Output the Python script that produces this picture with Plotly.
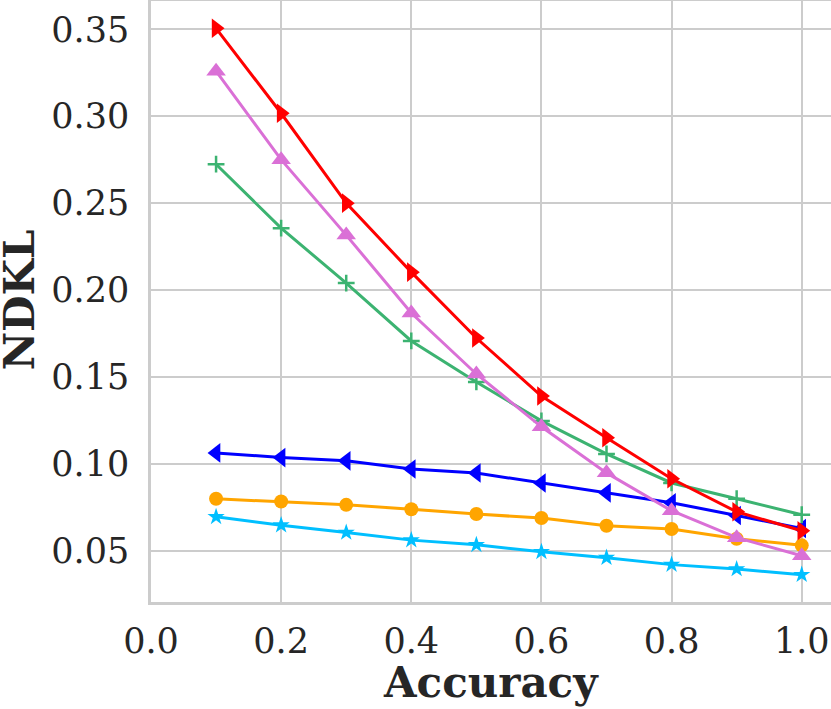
import plotly.graph_objects as go

# accuracy levels on the x axis
accuracy = [0.1, 0.2, 0.3, 0.4, 0.5, 0.6, 0.7, 0.8, 0.9, 1.0]

# NDKL per series
red_vals = [0.3506, 0.3017, 0.2500, 0.2103, 0.1724, 0.1390, 0.1150, 0.0914, 0.0724, 0.0615]
pink_vals = [0.3259, 0.2750, 0.2316, 0.1868, 0.1517, 0.1213, 0.0948, 0.0730, 0.0575, 0.0471]
green_vals = [0.2724, 0.2356, 0.2040, 0.1707, 0.1471, 0.1247, 0.1057, 0.0890, 0.0799, 0.0707]
blue_vals = [0.1063, 0.1036, 0.1017, 0.0970, 0.0947, 0.0890, 0.0833, 0.0776, 0.0703, 0.0628]
orange_vals = [0.0799, 0.0783, 0.0764, 0.0739, 0.0711, 0.0688, 0.0644, 0.0625, 0.0569, 0.0531]
cyan_vals = [0.0695, 0.0647, 0.0605, 0.0561, 0.0534, 0.0494, 0.0460, 0.0420, 0.0395, 0.0362]

x_ticks = [0.0, 0.2, 0.4, 0.6, 0.8, 1.0]
y_ticks = [0.05, 0.10, 0.15, 0.20, 0.25, 0.30, 0.35]

series = [
    (cyan_vals, '#00BFFF', 'star', 13),
    (orange_vals, '#FFA500', 'circle', 14),
    (blue_vals, '#0000FF', 'triangle-left', 17),
    (green_vals, '#3CB371', 'cross-thin', 12),
    (pink_vals, '#DA70D6', 'triangle-up', 17),
    (red_vals, '#FF0000', 'triangle-right', 17),
]

fig = go.Figure()
for vals, color, symbol, size in series:
    marker = dict(symbol=symbol, size=size, color=color)
    if symbol == 'cross-thin':
        marker['line'] = dict(color=color, width=2.5)
    fig.add_trace(go.Scatter(x=accuracy, y=vals, mode='lines+markers',
        line=dict(color=color, width=3), marker=marker, showlegend=False))

axis_font = dict(family='DejaVu Serif', size=35, color='#262626')
title_font = dict(family='DejaVu Serif', size=42, color='#262626')

fig.update_layout(
    width=831, height=709,
    margin=dict(l=151, r=0, t=1, b=107, autoexpand=False),
    plot_bgcolor='white', paper_bgcolor='white',
    font=axis_font,
)
fig.update_xaxes(
    range=[0, 1.045], tickvals=x_ticks, ticktext=[f'{v:.1f}' for v in x_ticks],
    showgrid=True, gridcolor='#cccccc', gridwidth=2,
    showline=True, linecolor='#cccccc', linewidth=2.5, mirror=True,
    zeroline=False, ticks='', tickfont=axis_font, ticklabelstandoff=6,
    automargin=False,
)
fig.update_yaxes(
    range=[0.0205, 0.3663], tickvals=y_ticks, ticktext=[f'{v:.2f}' for v in y_ticks],
    showgrid=True, gridcolor='#cccccc', gridwidth=2,
    showline=True, linecolor='#cccccc', linewidth=2.5, mirror=True,
    zeroline=False, ticks='', tickfont=axis_font, ticklabelstandoff=12,
    automargin=False,
)

# axis titles as annotations so they sit where the reference has them
fig.add_annotation(text='<b>Accuracy</b>', xref='paper', yref='paper',
    x=0.5, y=0, xanchor='center', yanchor='middle', yshift=-80,
    showarrow=False, font=title_font)
fig.add_annotation(text='<b>NDKL</b>', xref='paper', yref='paper',
    x=0, y=0.502, xanchor='center', yanchor='middle', xshift=-132,
    textangle=-90, showarrow=False, font=title_font)

# drop the page's default body margin so the figure fills the window
fig.write_html("out.html", config={'displayModeBar': False},
    post_script="document.body.style.margin='0';")
